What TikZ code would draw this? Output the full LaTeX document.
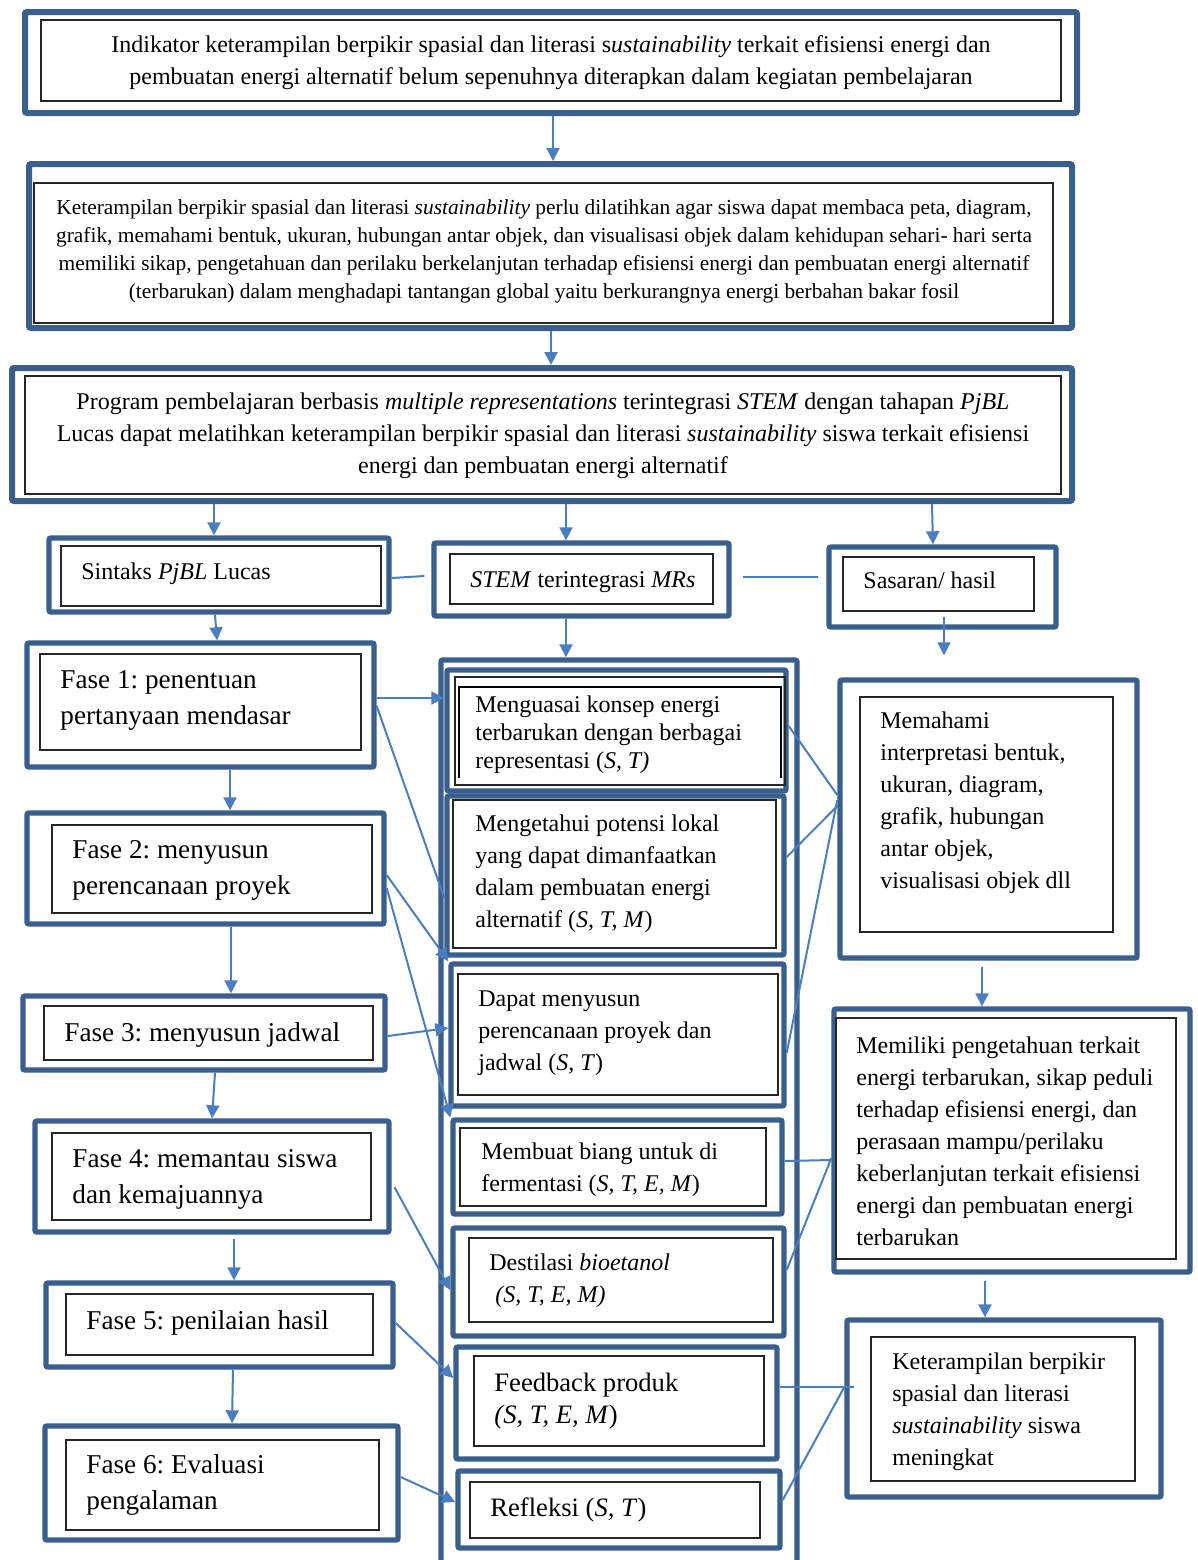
\documentclass[tikz,border=0pt]{standalone}
\usepackage{fontspec}
\setmainfont{Liberation Serif}
\usetikzlibrary{fit,arrows.meta}
\frenchspacing

\definecolor{boxblue}{RGB}{59,95,140}
\definecolor{linkblue}{RGB}{74,126,193}

\begin{document}
\begin{tikzpicture}[x=0.5pt,y=-0.5pt,
    outer/.style={draw=boxblue, line width=2.7pt, rounded corners=1pt, inner sep=0pt, fit={#1}},
    inner/.style={draw=black!85, line width=0.6pt, inner sep=0pt, fit={#1}},
    txt/.style={inner sep=0pt, align=left, anchor=west},
    link/.style={draw=linkblue, line width=1pt},
    arr/.style={link, -{Triangle[length=6.5pt,width=6.5pt]}}]

  \useasboundingbox (0,0) rectangle (1198,1560);
  \fill[white] (0,0) rectangle (1198,1560);

  % outer frames
  \node[outer={(25,12) (1077,113)}, line width=3pt] (ind) {};
  \node[outer={(29,164) (1072,328)}, line width=3pt] (ket) {};
  \node[outer={(12,368) (1072,501)}, line width=3pt] (prog) {};
  \node[outer={(49,538) (389,612)}] (sintaks) {};
  \node[outer={(434,543) (729,616)}] (stem) {};
  \node[outer={(829,547) (1056,627)}] (sasaran) {};

  \node[outer={(27,643) (374,767)}] (f1) {};
  \node[outer={(27,813) (384,924)}] (f2) {};
  \node[outer={(23,996) (385,1070)}] (f3) {};
  \node[outer={(35,1121) (389,1232)}] (f4) {};
  \node[outer={(46,1283) (393,1367)}] (f5) {};
  \node[outer={(45,1426) (398,1540)}] (f6) {};

  \node[outer={(441,660) (797,1620)}] (mrs) {};
  \node[outer={(447,670) (786,791)}] (m1) {};
  \node[outer={(447,796) (784,955)}] (m2) {};
  \node[outer={(451,964) (784,1106)}] (m3) {};
  \node[outer={(453,1120) (782,1214)}] (m4) {};
  \node[outer={(453,1228) (784,1336)}] (m5) {};
  \node[outer={(456,1347) (777,1459)}] (m6) {};
  \node[outer={(458,1471) (780,1548)}] (m7) {};

  \node[outer={(840,680) (1137,958)}] (r1) {};
  \node[outer={(834,1009) (1190,1272)}] (r2) {};
  \node[outer={(847,1320) (1161,1497)}] (r3) {};

  % inner frames
  \node[inner={(41,20) (1061,101)}] (indin) {};
  \node[inner={(34,183) (1053,323)}] (ketin) {};
  \node[inner={(25,376) (1061,494)}] (progin) {};
  \node[inner={(61,546) (381,606)}] (sintaksin) {};
  \node[inner={(450,554) (713,604)}] (stemin) {};
  \node[inner={(843,557) (1034,611)}] (sasaranin) {};

  \node[inner={(40,654) (361,750)}] (f1in) {};
  \node[inner={(52,825) (372,913)}] (f2in) {};
  \node[inner={(44,1006) (373,1060)}] (f3in) {};
  \node[inner={(52,1133) (371,1220)}] (f4in) {};
  \node[inner={(66,1294) (373,1355)}] (f5in) {};
  \node[inner={(66,1440) (379,1530)}] (f6in) {};

  \node[inner={(455,677) (785,785)}] (m1in) {};
  \draw[line width=1.1pt] (459,778) |- (781,687) -- (781,778);
  \node[inner={(453,800) (776,948)}] (m2in) {};
  \node[inner={(458,974) (778,1095)}] (m3in) {};
  \node[inner={(460,1128) (766,1206)}] (m4in) {};
  \node[inner={(469,1238) (773,1322)}] (m5in) {};
  \node[inner={(474,1356) (764,1446)}] (m6in) {};
  \node[inner={(470,1482) (760,1538)}] (m7in) {};

  \node[inner={(860,697) (1113,932)}] (r1in) {};
  \node[inner={(836,1018) (1176,1259)}] (r2in) {};
  \node[inner={(871,1337) (1135,1481)}] (r3in) {};

  % texts
  \begin{scope}[every node/.style={inner sep=0pt, align=center}]
    \node[font=\fontsize{12}{16}\selectfont] (indtxt) at (551,63)
      {Indikator keterampilan berpikir spasial dan literasi s\textit{ustainability} terkait efisiensi energi dan\\
       pembuatan energi alternatif belum sepenuhnya diterapkan dalam kegiatan pembelajaran};
    \node[font=\fontsize{10.7}{14}\selectfont] (kettxt) at (544,251)
      {Keterampilan berpikir spasial dan literasi \textit{sustainability} perlu dilatihkan agar siswa dapat membaca peta, diagram,\\
       grafik, memahami bentuk, ukuran, hubungan antar objek, dan visualisasi objek dalam kehidupan sehari- hari serta\\
       memiliki sikap, pengetahuan dan perilaku berkelanjutan terhadap efisiensi energi dan pembuatan energi alternatif\\
       (terbarukan) dalam menghadapi tantangan global yaitu berkurangnya energi berbahan bakar fosil};
    \node[font=\fontsize{12}{16}\selectfont] (progtxt) at (543,436)
      {Program pembelajaran berbasis \textit{multiple representations} terintegrasi \textit{STEM} dengan tahapan \textit{PjBL}\\
       Lucas dapat melatihkan keterampilan berpikir spasial dan literasi \textit{sustainability} siswa terkait efisiensi\\
       energi dan pembuatan energi alternatif};
  \end{scope}

  \begin{scope}[every node/.style={txt, font=\fontsize{12}{16}\selectfont}]
    \node (sintakstxt) at (81,574) {Sintaks \textit{PjBL} Lucas};
    \node (stemtxt) at (470,582) {\textit{STEM} terintegrasi \textit{MRs}};
    \node (sasarantxt) at (863,580) {Sasaran/ hasil};
  \end{scope}

  \begin{scope}[every node/.style={txt, font=\fontsize{13.6}{18}\selectfont}]
    \node (f1txt) at (60,700) {Fase 1: penentuan\\pertanyaan mendasar};
    \node (f2txt) at (72,870) {Fase 2: menyusun\\perencanaan proyek};
    \node (f3txt) at (64,1035) {Fase 3: menyusun jadwal};
    \node (f4txt) at (72,1179) {Fase 4: memantau siswa\\dan kemajuannya};
    \node (f5txt) at (86,1323) {Fase 5: penilaian hasil};
    \node (f6txt) at (86,1485) {Fase 6: Evaluasi\\pengalaman};
  \end{scope}

  \begin{scope}[every node/.style={txt, font=\fontsize{12}{16}\selectfont}]
    \node[font=\fontsize{12}{14}\selectfont] (m1txt) at (475,735)
      {Menguasai konsep energi\\terbarukan dengan berbagai\\representasi (\textit{S, T)}};
    \node (m2txt) at (475,874)
      {Mengetahui potensi lokal\\yang dapat dimanfaatkan\\dalam pembuatan energi\\alternatif (\textit{S, T, M})};
    \node (m3txt) at (478,1033) {Dapat menyusun\\perencanaan proyek dan\\jadwal (\textit{S, T})};
    \node (m4txt) at (481,1170) {Membuat biang untuk di\\fermentasi (\textit{S, T, E, M})};
    \node (m5txt) at (489,1281) {Destilasi \textit{bioetanol}\\\ \textit{(S, T, E, M)}};
    \node[font=\fontsize{13.3}{16}\selectfont] (m6txt) at (494,1401) {Feedback produk\\\textit{(S, T, E, M})};
    \node[font=\fontsize{13.3}{16}\selectfont] (m7txt) at (490,1510) {Refleksi (\textit{S, T})};

    \node (r1txt) at (880,803)
      {Memahami\\interpretasi bentuk,\\ukuran, diagram,\\grafik, hubungan\\antar objek,\\visualisasi objek dll};
    \node (r2txt) at (856,1141)
      {Memiliki pengetahuan terkait\\energi terbarukan, sikap peduli\\terhadap efisiensi energi, dan\\perasaan mampu/perilaku\\keberlanjutan terkait efisiensi\\energi dan pembuatan energi\\terbarukan};
    \node (r3txt) at (892,1412)
      {Keterampilan berpikir\\spasial dan literasi\\\textit{sustainability} siswa\\meningkat};
  \end{scope}

  % vertical flow
  \draw[arr] (ind.south -| 553,0) -- (ket.north -| 553,0);
  \draw[arr] (ket.south -| 551,0) -- (prog.north -| 551,0);
  \draw[arr] (prog.south -| 214,0) -- (sintaks.north -| 214,0);
  \draw[arr] (prog.south -| 566,0) -- (stem.north -| 566,0);
  \draw[arr] (prog.south -| 932,0) -- (sasaran.north -| 933,0);
  \draw[link] (sintaks.east |- 0,578) -- ([xshift=-3.5pt]stem.west |- 0,576);
  \draw[link] ([xshift=5.5pt]stem.east |- 0,577) -- ([xshift=-4pt]sasaran.west |- 0,577);
  \draw[arr] (sintaks.south -| 215,0) -- (f1.north -| 217,0);
  \draw[arr] (stem.south -| 566,0) -- (mrs.north -| 566,0);
  \draw[arr] ([yshift=6.5pt]sasaran.south -| 944,0) -- ([yshift=11pt]r1.north -| 944,0);

  \draw[arr] (f1.south -| 230,0) -- (f2.north -| 230,0);
  \draw[arr] (f2.south -| 231,0) -- (f3.north -| 231,0);
  \draw[arr] (f3.south -| 215,0) -- (f4.north -| 212,0);
  \draw[arr, shorten <=2pt] (f4.south -| 234,0) -- (f5.north -| 234,0);
  \draw[arr] (f5.south -| 233,0) -- (f6.north -| 232,0);

  \draw[arr, shorten <=3pt] (r1.south -| 982,0) -- (r2.north -| 982,0);
  \draw[arr, shorten <=3pt] (r2.south -| 985,0) -- (r3.north -| 985,0);

  % phases to activities
  \draw[arr] (f1.east |- 0,698) -- (m1.west |- 0,698);
  \draw[link] (f1.east |- 0,706) -- (m2.west |- 0,898);
  \draw[arr] (f2.east |- 0,875) -- (m3.north west);
  \draw[arr] (f2.east |- 0,888) -- (m4.north west);
  \draw[arr] (f3.east |- 0,1036) -- (m3.west |- 0,1028);
  \draw[arr, shorten <=3pt] (f4.east |- 0,1182) -- (m5.west |- 0,1290);
  \draw[arr] (f5.east |- 0,1323) -- (m6.west |- 0,1378);
  \draw[arr] (f6.east |- 0,1477) -- (m7.west |- 0,1502);

  % activities to goals
  \draw[link] (m1.east |- 0,726) -- (r1.west |- 0,795);
  \draw[link] (m2.east |- 0,857) -- (r1.west |- 0,806);
  \draw[link] (m3.east |- 0,1053) -- (r1.west |- 0,800);
  \draw[link] (m4.east |- 0,1161) -- (r2.west |- 0,1160);
  \draw[link] (m5.east |- 0,1270) -- (r2.west |- 0,1158);
  \draw[link] (m6.east |- 0,1387) -- ([xshift=5pt]r3.west |- 0,1387);
  \draw[link] (m7.east |- 0,1500) -- (r3.west |- 0,1387);

\end{tikzpicture}
\end{document}
